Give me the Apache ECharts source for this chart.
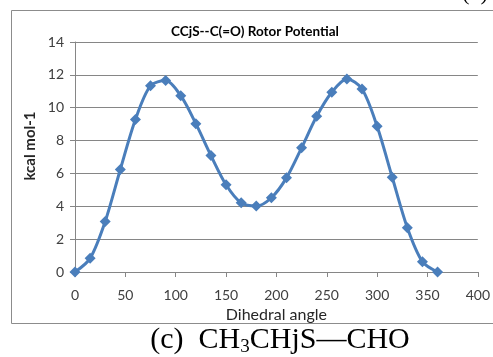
<!DOCTYPE html>
<html>
<head>
<meta charset="utf-8">
<script src="https://cdn.jsdelivr.net/npm/echarts@6/dist/echarts.min.js"></script>
<style>html,body{margin:0;padding:0;background:#fff}#c{width:493px;height:357px}</style>
</head>
<body>
<div id="c"></div>
<script>
const angles = [0, 15, 30, 45, 60, 75, 90, 105, 120, 135, 150, 165, 180, 195, 210, 225, 240, 255, 270, 285, 300, 315, 330, 345, 360];
const energies = [0, 0.83, 3.08, 6.24, 9.28, 11.34, 11.65, 10.73, 9.03, 7.09, 5.31, 4.21, 4.01, 4.52, 5.73, 7.56, 9.48, 10.94, 11.75, 11.14, 8.87, 5.77, 2.70, 0.63, 0.0];
const chartTitle = 'CCjS--C(=O) Rotor Potential';
const xName = 'Dihedral angle';
const yName = 'kcal mol-1';

const chart = echarts.init(document.getElementById('c'), null, {renderer: 'canvas'});
const axisGray = '#868686';
chart.setOption({
  animation: false,
  backgroundColor: '#fff',
  grid: {left: 75, right: 9, top: 42, bottom: 85, containLabel: false},
  xAxis: {
    type: 'value', min: 0, max: 400, interval: 50,
    axisLine: {show: true, lineStyle: {color: axisGray, width: 1}},
    axisTick: {show: true, inside: false, length: 5, lineStyle: {color: axisGray}},
    splitLine: {show: false},
    axisLabel: {color: '#404040', fontFamily: 'Lato', fontSize: 14, margin: 16},
    name: xName, nameLocation: 'middle', nameGap: 32,
    nameTextStyle: {color: '#262626', fontFamily: 'Lato', fontSize: 16}
  },
  yAxis: {
    type: 'value', min: 0, max: 14, interval: 2,
    axisLine: {show: true, lineStyle: {color: axisGray, width: 1}},
    axisTick: {show: true, inside: false, length: 5, lineStyle: {color: axisGray}},
    splitLine: {show: true, lineStyle: {color: axisGray, width: 1}},
    axisLabel: {color: '#404040', fontFamily: 'Lato', fontSize: 14, margin: 11}
  },
  series: [{
    type: 'line',
    data: angles.map((a, i) => [a, energies[i]]),
    smooth: 0.3,
    symbol: 'diamond', symbolSize: 11,
    lineStyle: {color: '#4a7ebb', width: 3},
    itemStyle: {color: '#4a7ebb'}
  }],
  graphic: [
    {type: 'rect', shape: {x: 11.5, y: 10.5, width: 520, height: 313}, style: {fill: 'none', stroke: '#8c8c8c', lineWidth: 1}, z: -1},
    {type: 'text', x: 255, y: 32, style: {text: chartTitle, font: 'bold 13.5px Lato', fill: '#000', textAlign: 'center', textVerticalAlign: 'middle'}},
    {type: 'text', x: 30, y: 146, rotation: Math.PI / 2, style: {text: yName, font: 'bold 15px Lato', fill: '#262626', textAlign: 'center', textVerticalAlign: 'middle'}},
    {type: 'text', x: 475, y: -6, style: {text: '(b)', font: '22px "Liberation Serif"', fill: '#000', textAlign: 'center', textVerticalAlign: 'middle'}},
    {type: 'text', x: 280, y: 340, style: {
      text: '{a|(c)  CH}{s|3}{a|CHjS\u2014CHO}',
      textAlign: 'center', textVerticalAlign: 'middle',
      rich: {
        a: {fontFamily: 'Liberation Serif', fontSize: 30, color: '#000'},
        s: {fontFamily: 'Liberation Serif', fontSize: 19, color: '#000', padding: [14, 0, 0, 0]}
      }
    }}
  ]
});
</script>
</body>
</html>
